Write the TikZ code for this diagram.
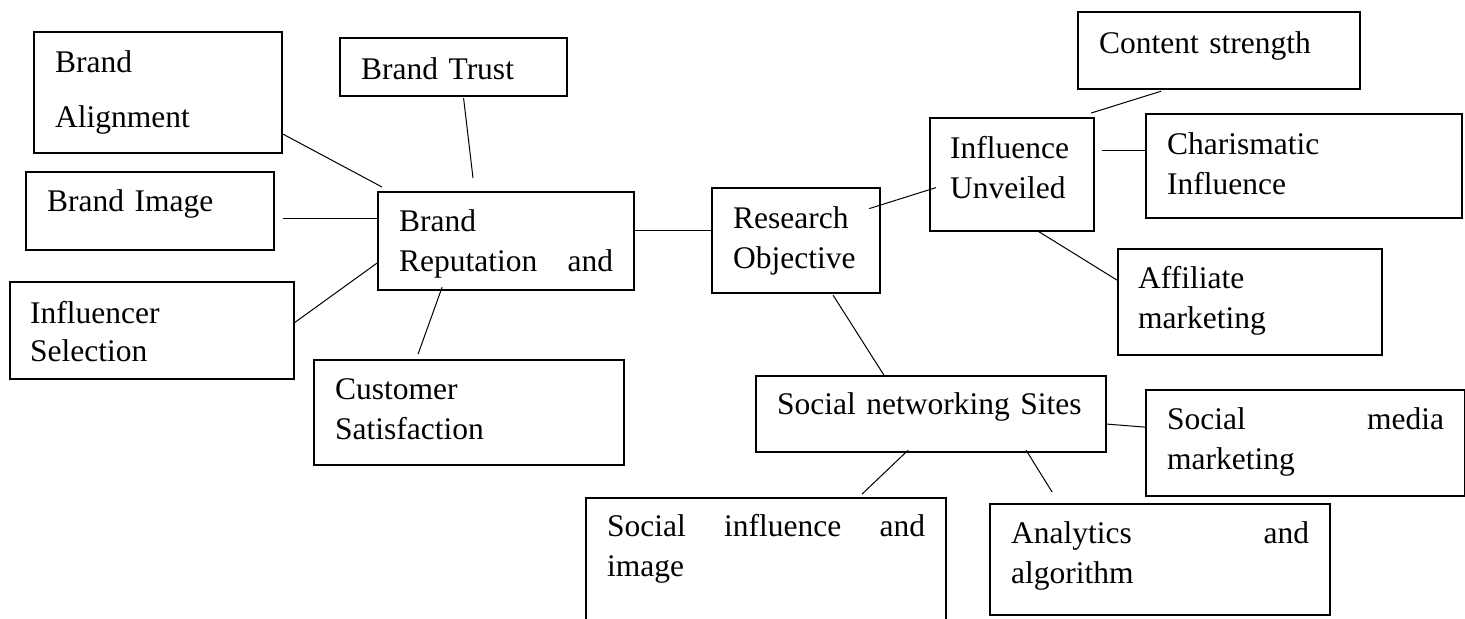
\documentclass[tikz,border=0pt]{standalone}
\usepackage{fontspec}
\setmainfont{Liberation Serif}
\usetikzlibrary{calc}

\tikzset{
  casella/.style n args={3}{draw, line width=1.1pt, anchor=north west,
    inner xsep=10.5pt, inner ysep=0pt, align=left,
    font=\fontsize{15.75}{20}\selectfont,
    text width=#1*0.5pt-21pt, text height=#2*0.5pt, text depth=#3*0.5pt},
  filo/.style={line width=0.5pt},
}

\begin{document}
\begin{tikzpicture}[x=0.5pt, y=-0.5pt]
        \useasboundingbox (0,0) rectangle (1465,618);

        % Ramo sinistro: reputazione del marchio
        \node[casella={248}{40}{81}] (ba) at (33,31) {Brand\\[7.5pt]Alignment};
        \node[casella={227}{41}{17}] (bt) at (339,37) {Brand Trust};
        \node[casella={248}{39}{39}] (bi) at (25,171) {Brand Image};
        \node[casella={256}{39}{59}] (br) at (377,191) {Brand\\Reputation\hfill and};
        \node[casella={286}{41}{56}, inner xsep=10pt] (is) at (9,281) {Influencer\\[-1pt]Selection};
        \node[casella={310}{39}{66}] (cs) at (313,359) {Customer\\Satisfaction};

        % Centro
        \node[casella={168}{40}{65}] (ro) at (711,187) {Research\\Objective};

        % Ramo in alto a destra
        \node[casella={282}{41}{36}] (cst) at (1077,11) {Content strength};
        \node[casella={166}{40}{73}, inner xsep=10pt] (iu) at (929,117) {Influence\\Unveiled};
        \node[casella={316}{40}{64}] (ci) at (1145,113) {Charismatic\\Influence};
        \node[casella={266}{39}{67}, inner xsep=10pt] (am) at (1117,248) {Affiliate\\marketing};

        % Ramo in basso
        \node[casella={350}{38}{38}] (sns) at (755,375) {Social networking Sites};
        \node[casella={319}{39}{67}] (smm) at (1145,389) {Social\hfill media\\marketing};
        \node[casella={360}{38}{105}] (sia) at (585,497) {Social\hfill influence\hfill and\\image};
        \node[casella={340}{39}{72}] (aa) at (989,503) {Analytics\hfill and\\algorithm};

        % Collegamenti
        \draw[filo] ($(ba.south east)+(0,-20)$) -- ($(br.north west)+(5,-4)$);
        \draw[filo] ($(bt.south)+(10,1)$) -- ($(br.north west)+(96,-13)$);
        \draw[filo] ($(bi.east)+(8,7)$) -- ($(br.west)+(0,-23)$);
        \draw[filo] ($(is.east)+(-2,-7)$) -- ($(br.west)+(0,22)$);
        \draw[filo] ($(cs.north)+(-51,-5)$) -- ($(br.south)+(-64,-4)$);
        \draw[filo] ($(br.east)+(0,-11)$) -- ($(ro.west)+(0,-10.5)$);
        \draw[filo] ($(ro.east)+(-12,-32)$) -- ($(iu.west)+(7,13)$);
        \draw[filo] ($(iu.north east)+(-4,-4)$) -- ($(cst.south)+(-58,1)$);
        \draw[filo] ($(iu.east)+(7,-24.5)$) -- ($(ci.west)+(0,-16)$);
        \draw[filo] ($(iu.south)+(26,-1)$) -- ($(am.west)+(0,-22)$);
        \draw[filo] ($(ro.south)+(37,1)$) -- ($(sns.north)+(-46,2)$);
        \draw[filo] ($(sns.east)+(0,10)$) -- ($(smm.west)+(0,-16)$);
        \draw[filo] ($(sns.south)+(-23,-3)$) -- ($(sia.north)+(96,-3)$);
        \draw[filo] ($(sns.south)+(95,-3)$) -- ($(aa.north)+(-108,-11)$);
    \end{tikzpicture}
\end{document}
